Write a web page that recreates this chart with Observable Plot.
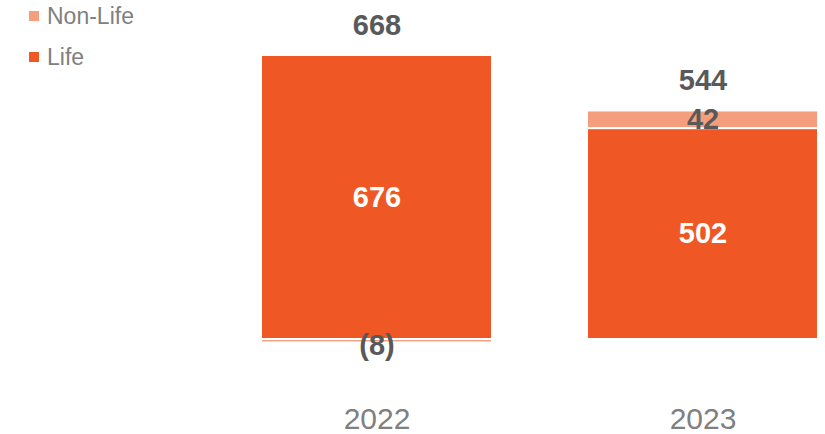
<!DOCTYPE html>
<html>
<head>
<meta charset="utf-8">
<script src="https://cdn.jsdelivr.net/npm/d3@7"></script>
<script src="https://cdn.jsdelivr.net/npm/@observablehq/plot@0.6"></script>
<style>
  body { margin: 0; background: #fff; }
  #wrap { position: relative; width: 825px; height: 434px; }
  #legend { position: absolute; left: 29px; top: 0; font-family: "Liberation Sans", Arial, sans-serif; font-size: 23px; color: #808080; }
  .item { position: absolute; left: 0; white-space: nowrap; display: flex; align-items: center; height: 26px; }
  .sw { width: 10px; height: 10px; margin-right: 8px; display: inline-block; }
</style>
</head>
<body>
<div id="wrap"><div id="legend"></div></div>
<script>
const years = ["2022", "2023"];
const life = [676, 502];
const nonLife = [-8, 42];
const totals = [668, 544];
const seriesNames = ["Life", "Non-Life"];
const colors = ["#EF5825", "#F59E7E"];

const rows = [];
years.forEach((yr, i) => {
  rows.push({year: yr, series: "Life", value: life[i]});
  rows.push({year: yr, series: "Non-Life", value: nonLife[i]});
});

const fmt = v => v < 0 ? `(${Math.abs(v)})` : `${v}`;
const lifeLabels = years.map((yr, i) => ({year: yr, y: life[i] / 2, text: fmt(life[i])}));
const nlPos = [], nlNeg = [];
years.forEach((yr, i) => {
  const v = nonLife[i];
  if (v >= 0) nlPos.push({year: yr, y: life[i] + v / 2, text: fmt(v)});
  else nlNeg.push({year: yr, y: v / 2, text: fmt(v)});
});
const totalLabels = years.map((yr, i) => ({year: yr, y: Math.max(totals[i], life[i]), text: fmt(totals[i])}));

const font = "Liberation Sans, Arial, sans-serif";
const chart = Plot.plot({
  width: 825,
  height: 434,
  marginTop: 0, marginBottom: 0, marginLeft: 0, marginRight: 0,
  style: {fontFamily: font, background: "transparent"},
  x: {domain: years, range: [261, 818], paddingInner: 0.292, paddingOuter: 0, axis: null},
  y: {domain: [0, 676], range: [339, 55], axis: null},
  color: {domain: seriesNames, range: colors},
  marks: [
    Plot.barY(rows, Plot.stackY({order: seriesNames, x: "year", y: "value", fill: "series", stroke: "white", strokeWidth: 2})),
    Plot.text(lifeLabels, {x: "year", y: "y", text: "text", fill: "white", fontWeight: "bold", fontSize: 29}),
    Plot.text(nlPos, {x: "year", y: "y", text: "text", fill: "#595959", fontWeight: "bold", fontSize: 29}),
    Plot.text(nlNeg, {x: "year", y: "y", text: "text", fill: "#595959", fontWeight: "bold", fontSize: 29, dy: 5}),
    Plot.text(totalLabels, {x: "year", y: "y", text: "text", fill: "#595959", fontWeight: "bold", fontSize: 29, dy: -30}),
    Plot.axisX({domain: years, tickSize: 0, fontSize: 30, color: "#808080", lineAnchor: "middle", dy: -15, label: null, tickPadding: 0})
  ]
});
document.getElementById("wrap").prepend(chart);

const legend = document.getElementById("legend");
const legendOrder = ["Non-Life", "Life"];
const legendTops = [3, 44];
legendOrder.forEach((name, k) => {
  const it = document.createElement("div");
  it.className = "item";
  it.style.top = legendTops[k] + "px";
  const sw = document.createElement("span");
  sw.className = "sw";
  sw.style.background = colors[seriesNames.indexOf(name)];
  it.appendChild(sw);
  it.appendChild(document.createTextNode(name));
  legend.appendChild(it);
});
</script>
</body>
</html>
